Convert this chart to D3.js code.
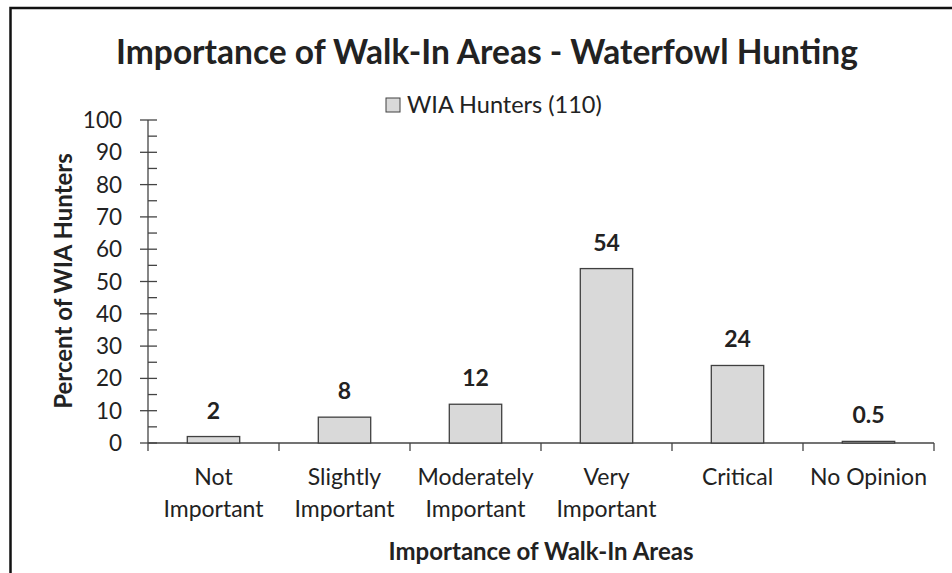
<!DOCTYPE html>
<html>
<head>
<meta charset="utf-8">
<script src="https://cdn.jsdelivr.net/npm/d3@7"></script>
<style>
  body { margin: 0; background: #fff; }
  text { font-family: Lato, "Open Sans", sans-serif; fill: #222; }
</style>
</head>
<body>
<div id="chart"></div>
<script>
const categories = [["Not", "Important"], ["Slightly", "Important"], ["Moderately", "Important"], ["Very", "Important"], ["Critical"], ["No Opinion"]]
const values = [2, 8, 12, 54, 24, 0.5]
const valueLabels = ["2", "8", "12", "54", "24", "0.5"]
const yTicks = [0, 10, 20, 30, 40, 50, 60, 70, 80, 90, 100]
const seriesName = "WIA Hunters (110)"

const width = 952
const height = 573
const plot = {left: 148, right: 934, top: 120, bottom: 443}

const svg = d3.select("#chart").append("svg").attr("width", width).attr("height", height)

// frame (runs off the right and bottom edges)
svg.append("rect").attr("x", 10.5).attr("y", 8).attr("width", 960).attr("height", 600)
    .attr("fill", "none").attr("stroke", "#111").attr("stroke-width", 2.5)

const x = d3.scaleBand().domain(d3.range(categories.length)).range([plot.left, plot.right]).paddingInner(0.6).paddingOuter(0.3)
const xTickScale = d3.scaleLinear().domain([0, categories.length]).range([plot.left, plot.right])
const y = d3.scaleLinear().domain([0, 100]).range([plot.bottom, plot.top])

// title
svg.append("text").attr("x", 487).attr("y", 64).attr("text-anchor", "middle")
    .attr("font-size", 33.5).attr("font-weight", "bold").text("Importance of Walk-In Areas - Waterfowl Hunting")

// legend
const legend = svg.append("g").attr("transform", "translate(386,98)")
legend.append("rect").attr("width", 14).attr("height", 14).attr("fill", "#d9d9d9").attr("stroke", "#404040")
legend.append("text").attr("x", 21).attr("y", 15).attr("font-size", 23.5).text(seriesName)

// y axis with minor ticks
const yAxis = svg.append("g").attr("transform", `translate(${plot.left},0)`)
yAxis.append("line").attr("y1", y(0)).attr("y2", y(100)).attr("stroke", "#444").attr("stroke-width", 1.3)
yAxis.selectAll(".minor").data(d3.range(5, 100, 10)).join("line")
    .attr("x1", 0).attr("x2", 9).attr("y1", d => y(d)).attr("y2", d => y(d)).attr("stroke", "#444").attr("stroke-width", 1.3)
yAxis.selectAll(".major").data(yTicks).join("line")
    .attr("x1", -8).attr("x2", 9).attr("y1", d => y(d)).attr("y2", d => y(d)).attr("stroke", "#444").attr("stroke-width", 1.3)
yAxis.selectAll(".lbl").data(yTicks).join("text")
    .attr("x", -26).attr("y", d => y(d) + 8).attr("text-anchor", "end").attr("font-size", 22.5).text(d => d)

// x axis
const xAxis = svg.append("g")
xAxis.append("line").attr("x1", plot.left).attr("x2", plot.right).attr("y1", y(0)).attr("y2", y(0)).attr("stroke", "#444").attr("stroke-width", 1.3)
xAxis.selectAll(".tick").data(d3.range(0, categories.length + 1)).join("line")
    .attr("x1", d => xTickScale(d)).attr("x2", d => xTickScale(d)).attr("y1", y(0)).attr("y2", y(0) + 8)
    .attr("stroke", "#444").attr("stroke-width", 1.3)

const catText = xAxis.selectAll(".cat").data(categories).join("text")
    .attr("text-anchor", "middle").attr("font-size", 23)
catText.selectAll("tspan").data((d, i) => d.map(s => ({s, i}))).join("tspan")
    .attr("x", d => x(d.i) + x.bandwidth() / 2)
    .attr("y", (d, j) => 485 + j * 32)
    .text(d => d.s)

// bars
svg.selectAll(".bar").data(values).join("rect")
    .attr("x", (d, i) => x(i)).attr("width", x.bandwidth())
    .attr("y", d => y(d)).attr("height", d => y(0) - y(d))
    .attr("fill", "#d9d9d9").attr("stroke", "#404040").attr("stroke-width", 1.3)

svg.selectAll(".val").data(values).join("text")
    .attr("x", (d, i) => x(i) + x.bandwidth() / 2).attr("y", d => y(d) - 18)
    .attr("text-anchor", "middle").attr("font-size", 23).attr("font-weight", "bold")
    .text((d, i) => valueLabels[i])

// axis titles
svg.append("text").attr("x", 541).attr("y", 560).attr("text-anchor", "middle")
    .attr("font-size", 24).attr("font-weight", "bold").text("Importance of Walk-In Areas")
svg.append("text").attr("transform", "translate(72,281) rotate(-90)").attr("text-anchor", "middle")
    .attr("font-size", 24).attr("font-weight", "bold").text("Percent of WIA Hunters")
</script>
</body>
</html>
